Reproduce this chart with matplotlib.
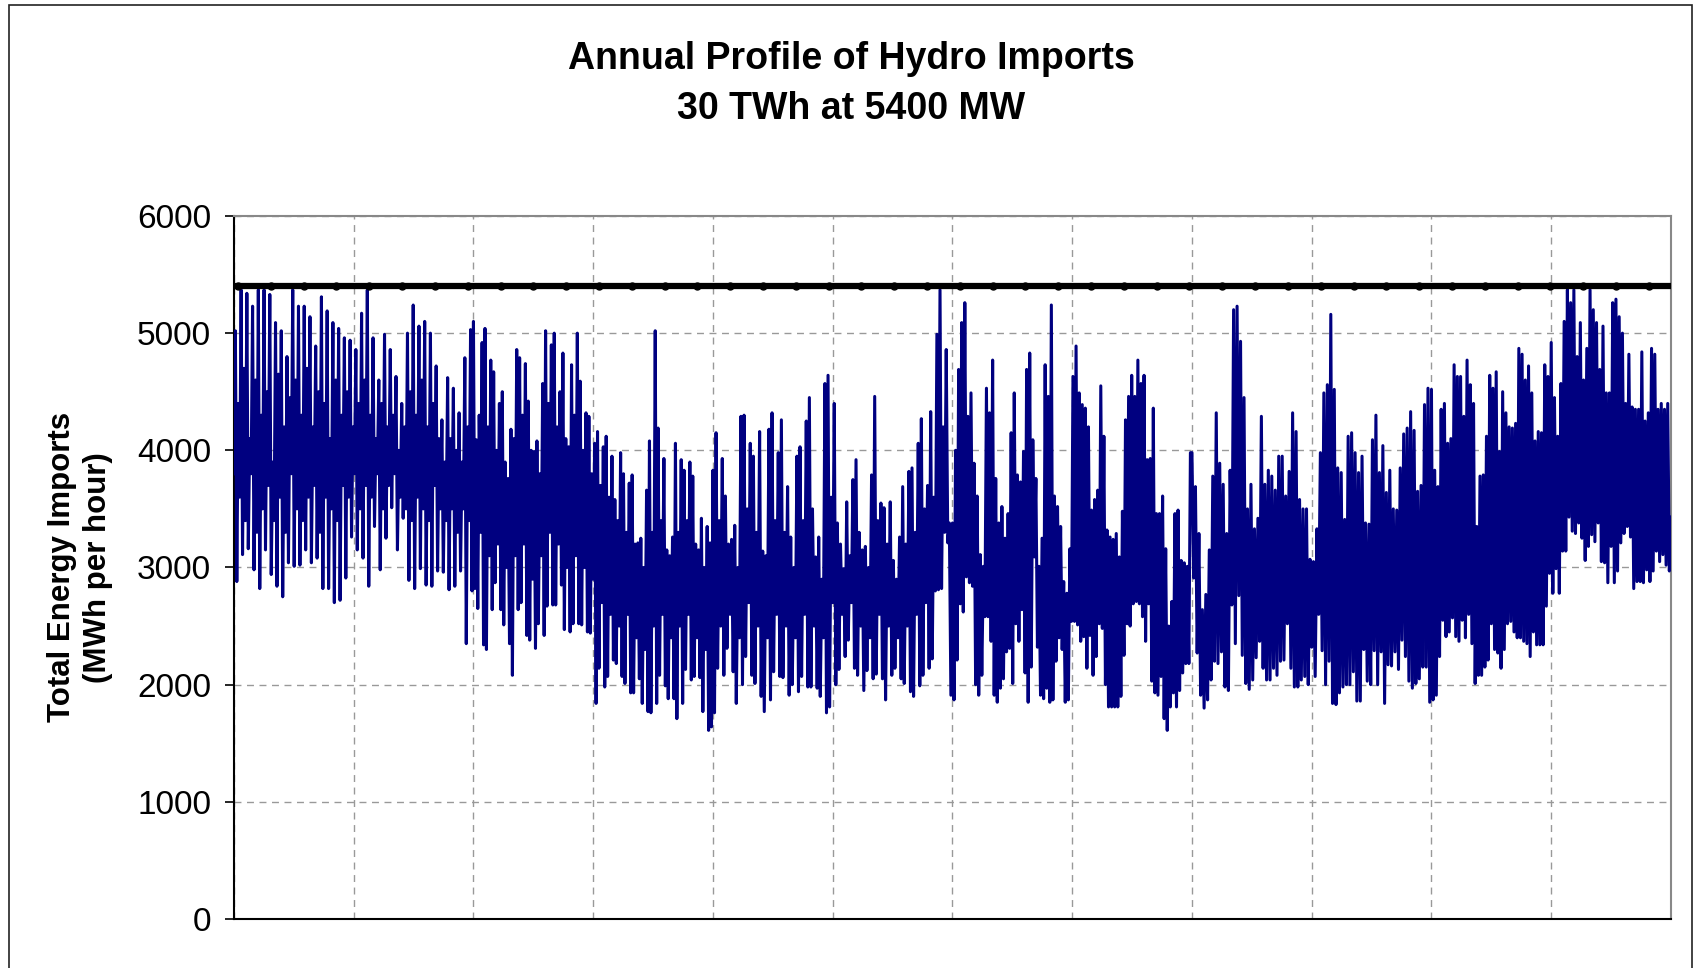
import numpy as np
import matplotlib.pyplot as plt
from matplotlib import patches

plt.rcParams['font.family'] = ['Liberation Sans', 'DejaVu Sans']

# Hourly hydro imports (MWh per hour), read off the chart as highs, lows and
# mid-band values, one list per two months of the year
jan_feb = [3800,
           5020, 2880, 4400, 3600, 5370, 3110, 4700, 3400, 5340, 3160, 4100, 3800,
           5230, 2980, 4600, 3300, 5370, 2820, 4300, 3500, 5370, 3150, 4500, 3700,
           5330, 2940, 3900, 3400, 5090, 2840, 4650, 3600, 5020, 2750, 4200, 3300,
           4800, 3040, 4450, 3800, 5370, 3010, 4600, 3500, 5230, 3020, 4300, 3400,
           5230, 3150, 4700, 3600, 5140, 3040, 4200, 3700, 4890, 3080, 4500, 3300,
           5310, 2820, 4400, 3600, 5190, 2820, 4100, 3500, 5090, 2700, 4600, 3400,
           5040, 2720, 4300, 3700, 4960, 2910, 4500, 3600, 4940, 3260, 4200, 3800,
           4860, 3150, 4400, 3500, 5170, 3080, 4600, 3700, 5370, 2840, 4300, 3600,
           4960, 3350, 4100, 3800, 4600, 2980, 4400, 3500, 4990, 3250, 4200, 3700,
           4860, 3510, 4300, 3800, 4630, 3150, 4000, 3600, 4400, 3420, 4200, 3500,
           5000, 2890, 4500, 3400, 5240, 2820, 4300, 3600, 5060, 2990, 4600, 3500,
           5100, 2850, 4200, 3400, 5000, 2840, 4400, 3700, 4720, 2970, 4100, 3500,
           4260, 2960, 3900, 3400, 4620, 2810, 4100, 3500, 4530, 2840, 4000, 3300,
           4320, 2970, 3900, 3500, 4790, 2350, 4200, 3400, 5030, 2800]
mar_apr = [5100, 2820, 4090, 2650, 4300, 3300, 4920, 2340, 5040, 2300, 4200, 3100,
           4770, 2640, 4670, 2870, 4000, 3200, 4400, 2640, 4500, 2510, 3900, 3000,
           3760, 2350, 4180, 2080, 4100, 3100, 4860, 2640, 4790, 2700, 4300, 3200,
           4740, 2420, 4420, 2380, 4000, 2900, 3990, 2310, 4080, 2520, 3800, 3100,
           4570, 2420, 5020, 2670, 4400, 3300, 4900, 2680, 5000, 2680, 4200, 3200,
           4500, 2850, 4830, 2470, 4100, 3000, 4030, 2450, 4730, 2520, 4300, 3100,
           5000, 2520, 4590, 2510, 4000, 3000, 4320, 2450, 4290, 2440, 3800, 2900,
           4060, 1840, 4160, 2140, 3700, 2700, 4030, 1980, 4120, 2070, 3600, 2600,
           3950, 2210, 3580, 2180, 3400, 2500, 3980, 2070, 3800, 2010, 3300, 2600,
           3720, 1930, 3790, 1930, 3200, 2400, 3210, 2050, 3250, 1840, 3000, 2300,
           3660, 1770, 4080, 1760, 3300, 2500, 5020, 1840, 4190, 2080, 3400, 2600,
           3930, 1990, 3150, 1880, 3100, 2400, 3260, 1880, 4060, 1710, 3300, 2500,
           3920, 1840, 3830, 2130, 3400, 2600, 3900, 2040, 3780, 2070, 3200, 2400,
           3150, 2060, 3420, 1770, 3000, 2300, 3350, 1610, 3210, 1640]
may_jun = [3830, 1760, 4150, 2140, 3400, 2500, 3930, 2080, 3610, 2310, 3200, 2600,
           3240, 2110, 3360, 1840, 3000, 2400, 4290, 2000, 4300, 2240, 3500, 2700,
           4060, 2080, 3950, 2010, 3300, 2500, 4160, 1900, 3140, 1770, 3100, 2400,
           4180, 1870, 4320, 2110, 3400, 2600, 3980, 2070, 4260, 2060, 3300, 2500,
           3690, 1910, 3260, 2000, 3000, 2400, 3950, 1940, 4030, 2070, 3400, 2600,
           4250, 1980, 4450, 1980, 3500, 2500, 3090, 1970, 3260, 1900, 2900, 2400,
           4570, 1760, 4640, 1810, 3600, 2700, 4400, 2000, 3380, 2130, 3200, 2600,
           2990, 2240, 3560, 2380, 3100, 2700, 3750, 2140, 3920, 2080, 3300, 2500,
           3150, 1950, 3180, 2120, 3000, 2400, 3790, 2050, 4460, 2090, 3400, 2600,
           3550, 2050, 3510, 1870, 3200, 2500, 3560, 2080, 3060, 2140, 2900, 2400,
           3260, 2050, 3690, 2010, 3200, 2500, 3820, 1940, 3850, 1900, 3300, 2600,
           4060, 1990, 4270, 2080, 3500, 2700, 3700, 2140, 4330, 2220, 3600, 2800,
           4990, 2810, 5370, 2820, 4200, 3300, 4860, 3210, 3380, 1910]
jul_aug = [3380, 1870, 4000, 2210, 4690, 2690, 5090, 2620, 5260, 2920, 4290, 2870, 4490,
           2840, 3890, 2000, 3610, 1910, 3110, 2080, 3010, 2580, 4530, 2580, 4320, 2370,
           4770, 1910, 3760, 1850, 3380, 1970, 3520, 2050, 3250, 2280, 3460, 2310, 4150,
           2010, 4490, 2520, 3790, 2370, 3730, 2640, 3990, 2100, 4690, 1850, 4830, 2150,
           4090, 3090, 3760, 2320, 3010, 1910, 3250, 1880, 4730, 1970, 4460, 1850, 5240,
           1870, 3610, 2200, 3520, 2400, 3350, 2300, 2880, 1850, 2780, 1870, 3160, 2540,
           4630, 2540, 4890, 2510, 4490, 2370, 4390, 2410, 4360, 2140, 4200, 2420, 3490,
           2080, 3580, 2240, 3660, 2520, 4550, 2480, 4120, 2000, 3320, 1810, 3260, 1810,
           3240, 1810, 3290, 1810, 3090, 1900, 3480, 2250, 4260, 2520, 4460, 2500, 4640,
           2690, 4460, 2710, 4770, 2690, 4570, 2580, 4640, 2370, 3920, 2690, 3930, 2030,
           4360, 1930, 3460, 1910, 3460, 2070, 3610, 1710, 3160, 1610, 2500, 1810, 2710,
           1930, 3460, 1810, 3490, 1950, 3060, 2100, 3040, 2180, 3010, 2180, 3980]
sep_oct = [3980, 2910, 3690, 2270, 3290, 1910, 2640, 1800, 2770, 1870, 3150, 2040, 3780,
           2200, 4320, 2180, 3890, 2280, 3710, 1980, 3290, 1950, 3830, 2680, 5200, 2350,
           5230, 2760, 4930, 2250, 4450, 2010, 3500, 1960, 3710, 2040, 3330, 2230, 3420,
           2370, 4290, 2140, 3710, 2040, 3830, 2040, 3780, 2140, 3660, 2080, 3950, 2200,
           3950, 2210, 3610, 2520, 3820, 2140, 4320, 1980, 4160, 1980, 3580, 2040, 3500,
           2070, 3500, 2000, 3070, 2320, 3050, 2070, 3330, 2600, 3980, 2290, 4490, 2000,
           4560, 2200, 5160, 1840, 4520, 1830, 3850, 1930, 3810, 1980, 3410, 2000, 4120,
           2000, 4150, 2110, 3980, 1860, 3810, 1860, 3950, 2300, 3380, 2030, 3370, 2000,
           4090, 2290, 4300, 2000, 3810, 2280, 4040, 1840, 3640, 2170, 3830, 2160, 3500,
           2280, 3490, 2130, 3850, 2380, 4140, 2240, 4190, 2030, 4330, 1970, 4170, 2010,
           3650, 2050, 3700, 2150, 4390, 2150, 4530, 1850]
nov_dec = [4520, 1870, 3830, 1910, 3690, 2240, 4350, 2550, 4400, 2410, 4060, 2450, 4100,
           2570, 4730, 2410, 4630, 2370, 4630, 2550, 4290, 2400, 4770, 2600, 4560, 2350,
           4400, 2010, 3350, 2080, 3780, 2080, 3790, 2150, 4120, 2210, 4640, 2520, 4530,
           2300, 4670, 2270, 3990, 2140, 4500, 2300, 4320, 2520, 4200, 2540, 4190, 2450,
           4230, 2400, 4870, 2400, 4820, 2370, 4600, 2350, 4720, 2240, 4490, 2450, 4080,
           2340, 4160, 2340, 4150, 2340, 4730, 2670, 4630, 2950, 4920, 2780, 4450, 2990,
           4120, 2780, 4570, 3140, 5100, 3140, 5370, 3430, 5260, 3310, 5370, 3290, 4800,
           3380, 5090, 3250, 4600, 3060, 4870, 3180, 5370, 3280, 5200, 3220, 5090, 3380,
           4690, 3050, 5060, 3040, 4490, 2870, 4490, 3180, 5260, 2870, 5290, 2970, 5140,
           3210, 5000, 3290, 4400, 3350, 4820, 3260, 4370, 2820, 4350, 2880, 4350, 2880,
           4840, 2870, 4250, 2980, 4320, 2880, 4870, 2970, 4820, 3140, 4350, 3050, 4400,
           3110, 4350, 3020, 4400, 2970, 3430]

# Transmission limit
cap_mw = 5400
cap_marker_hours = 200
hours_per_year = 8760
month_hours = 730

fig = plt.figure(figsize=(16.94, 9.68), dpi=100)
ax = fig.add_axes([0.1381, 0.0506, 0.8483, 0.7263])

# Spread each two-month block evenly over its hours
blocks = [jan_feb, mar_apr, may_jun, jul_aug, sep_oct, nov_dec]
block_len = hours_per_year / len(blocks)
xs = []
for i, b in enumerate(blocks):
    start = i * block_len
    xs.append(np.linspace(start, start + block_len, len(b), endpoint=(i == len(blocks) - 1)))
x = np.concatenate(xs)
y = np.concatenate([np.array(b, dtype=float) for b in blocks])

ax.plot(x, y, color='#000080', lw=2.2, zorder=3)

# 5400 MW limit line with small markers
ax.plot([0, hours_per_year], [cap_mw, cap_mw], color='black', lw=4.5, zorder=4,
        solid_capstyle='butt')
mk = np.arange(25, hours_per_year, cap_marker_hours)
ax.plot(mk, np.full(len(mk), cap_mw), 'o', color='black', markersize=5, zorder=4)

ax.set_xlim(0, hours_per_year)
ax.set_ylim(0, 6000)
ax.set_xticks(np.arange(0, hours_per_year + 1, month_hours))
ax.set_yticks(np.arange(0, 6001, 1000))
ax.tick_params(axis='x', length=0, labelbottom=False)
ax.tick_params(axis='y', direction='out', length=6.5, width=1.2, pad=10, labelsize=24)

ax.set_axisbelow(True)
ax.grid(True, color='#999999', linestyle=(0, (5, 4)), lw=1)

for side in ['top', 'right']:
    ax.spines[side].set_color('#888888')
    ax.spines[side].set_linewidth(1.5)
for side in ['left', 'bottom']:
    ax.spines[side].set_color('black')
    ax.spines[side].set_linewidth(1.5)

fig.text(0.5024, 1 - 59 / 968, 'Annual Profile of Hydro Imports', ha='center', va='center',
         fontsize=27, fontweight='bold')
fig.text(0.5024, 1 - 109 / 968, '30 TWh at 5400 MW', ha='center', va='center',
         fontsize=27, fontweight='bold')
fig.text(0.0472, 0.414, 'Total Energy Imports\n(MWh per hour)', rotation=90,
         ha='center', va='center', multialignment='center', fontsize=22.5,
         fontweight='bold', linespacing=1.3)

# Outer chart border
border = patches.Rectangle((9 / 1694, -0.05), (1692 - 9) / 1694, 1 - 5 / 968 + 0.05,
                           transform=fig.transFigure, fill=False,
                           edgecolor='#222222', lw=1.2)
fig.add_artist(border)

fig.savefig('out.png', dpi=100)
